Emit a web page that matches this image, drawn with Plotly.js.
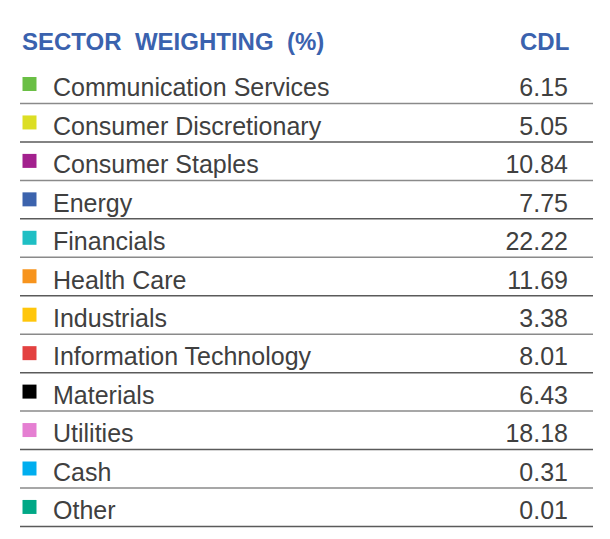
<!DOCTYPE html>
<html>
<head>
<meta charset="utf-8">
<script src="https://cdn.plot.ly/plotly-3.0.1.min.js"></script>
<style>
    html, body { margin: 0; padding: 0; background: #ffffff; }
    #sectorTable { width: 610px; height: 539px; }
</style>
</head>
<body>
<div id="sectorTable"></div>
<script>
// Table data
const sectors = [
    'Communication Services', 'Consumer Discretionary', 'Consumer Staples', 'Energy',
    'Financials', 'Health Care', 'Industrials', 'Information Technology',
    'Materials', 'Utilities', 'Cash', 'Other'
];
const cdlWeights = [6.15, 5.05, 10.84, 7.75, 22.22, 11.69, 3.38, 8.01, 6.43, 18.18, 0.31, 0.01];
const sectorColors = [
    '#6abf45', '#dcde24', '#a3218e', '#3c63ad', '#1fbfc4', '#f7941d',
    '#ffc60b', '#e34140', '#000000', '#e57fd2', '#00aeef', '#00a886'
];
const headerLabel = 'SECTOR\u00a0\u00a0WEIGHTING\u00a0\u00a0(%)';
const fundLabel = 'CDL';

// Layout helpers (pixels mapped onto the axes)
const rowPitch = 38.45;
const firstRowPx = 87;
const pxToRow = (px) => (px - firstRowPx) / rowPitch;
const rows = sectors.map((s, i) => i);

const textFont = { family: 'Liberation Sans, Arial, sans-serif', size: 25, color: '#404040' };
const headFont = { family: 'Liberation Sans, Arial, sans-serif', size: 24, color: '#3a62ae', weight: 'bold' };

let traces = [{
    // colour squares
    x: rows.map(() => 29.5),
    y: rows.map((r) => r - 3 / rowPitch),
    mode: 'markers',
    type: 'scatter',
    marker: { symbol: 'square', size: 14, color: sectorColors, line: { width: 0 } },
    hoverinfo: 'skip',
}, {
    // sector names
    x: rows.map(() => 53),
    y: rows.map((r) => r + 3 / rowPitch),
    text: sectors,
    mode: 'text',
    type: 'scatter',
    textposition: 'middle right',
    textfont: textFont,
    hoverinfo: 'skip',
}, {
    // weights
    x: rows.map(() => 568),
    y: rows.map((r) => r + 3 / rowPitch),
    text: cdlWeights.map((v) => v.toFixed(2)),
    mode: 'text',
    type: 'scatter',
    textposition: 'middle left',
    textfont: textFont,
    hoverinfo: 'skip',
}];

// separator lines under each row
let shapes = rows.map((r) => ({
    type: 'line',
    xref: 'x', yref: 'y',
    x0: 20, x1: 593,
    y0: r + pxToRow(103.5), y1: r + pxToRow(103.5),
    line: { color: (r % 2 ? '#5a5a5a' : '#8a8a8a'), width: 1.5 },
}));

let layout = {
    width: 610,
    height: 539,
    margin: { l: 0, r: 0, t: 0, b: 0, pad: 0 },
    paper_bgcolor: '#ffffff',
    plot_bgcolor: '#ffffff',
    showlegend: false,
    xaxis: { range: [0, 610], visible: false, fixedrange: true },
    yaxis: { range: [pxToRow(539), pxToRow(0)], visible: false, fixedrange: true },
    shapes: shapes,
    annotations: [{
        x: 20, y: pxToRow(41), xref: 'x', yref: 'y',
        text: headerLabel, showarrow: false,
        xanchor: 'left', yanchor: 'middle',
        font: headFont,
    }, {
        x: 571, y: pxToRow(41), xref: 'x', yref: 'y',
        text: fundLabel, showarrow: false,
        xanchor: 'right', yanchor: 'middle',
        font: headFont,
    }],
};

Plotly.newPlot('sectorTable', traces, layout, { staticPlot: true, displayModeBar: false });
</script>
</body>
</html>
